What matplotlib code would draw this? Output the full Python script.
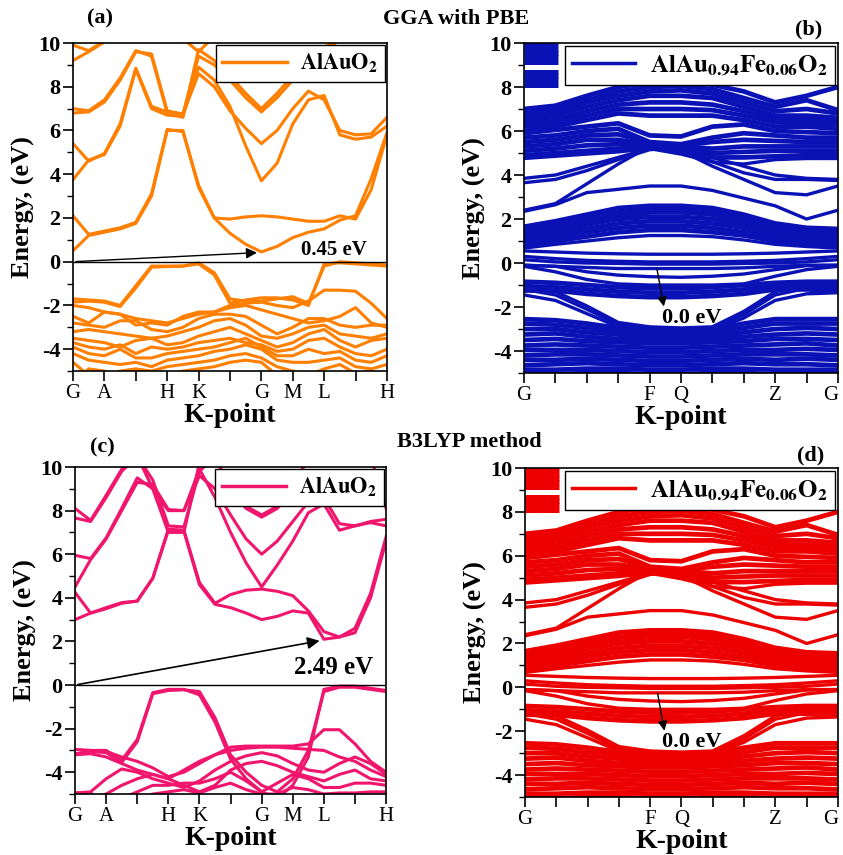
import matplotlib
matplotlib.use('Agg')
import matplotlib.pyplot as plt
from matplotlib.lines import Line2D

plt.rcParams['font.family'] = ['Liberation Serif', 'DejaVu Serif']
plt.rcParams['mathtext.fontset'] = 'stix'
plt.rcParams['axes.unicode_minus'] = False

# k-path positions
k_half = [0, 0.5, 1, 1.5, 2, 2.5, 3, 3.5, 4, 4.5, 5, 5.5, 6, 6.5, 7, 7.5, 8, 8.5, 9, 9.5, 10]
k_node = [0, 1, 2, 3, 4, 5, 6, 7, 8, 9, 10]

pure_ticks = ['G', 'A', '', 'H', 'K', '', 'G', 'M', 'L', '', 'H']
fe_ticks = ['G', '', '', '', 'F', 'Q', '', '', 'Z', '', 'G']

# ---- (a) AlAuO2, GGA-PBE ----
pbe_cond = [
    [0.5, 1.2, 1.35, 1.5, 1.75, 3.0, 6.0, 6.0, 3.4, 2.0, 1.3, 0.8, 0.45, 0.7, 1.1, 1.35, 1.5, 1.9, 2.1, 3.8, 5.9],
    [2.1, 1.25, 1.4, 1.55, 1.8, 3.1, 6.05, 5.95, 3.5, 2.0, 1.95, 2.05, 2.1, 2.05, 1.95, 1.85, 1.85, 2.1, 1.95, 3.3, 5.8],
    [3.75, 4.65, 4.9, 6.2, 8.8, 7.0, 6.7, 6.65, 8.9, 8.3, 7.1, 5.3, 3.7, 4.5, 6.3, 7.4, 7.6, 5.8, 5.6, 5.7, 6.2],
    [5.4, 4.6, 4.95, 6.3, 8.85, 7.1, 6.85, 6.75, 8.6, 8.0, 6.9, 6.1, 5.4, 6.0, 7.0, 7.8, 7.4, 6.0, 5.8, 5.85, 6.6],
    [6.8, 6.85, 7.3, 8.3, 9.6, 9.5, 6.9, 6.75, 9.4, 9.0, 8.3, 7.5, 6.85, 7.5, 8.3, 9.0, 9.5, 10.2, 10.5, 10.5, 10.5],
    [7.0, 6.9, 7.4, 8.4, 9.65, 9.4, 6.8, 6.6, 9.7, 9.2, 8.5, 7.7, 7.0, 7.7, 8.5, 9.2, 9.8, 10.2, 10.5, 10.5, 10.5],
    [9.2, 9.6, 10.05, 10.5, 10.5, 10.5, 10.5, 10.5, 10.5, 10.5, 10.5, 10.5, 10.5, 10.5, 10.5, 10.5, 10.5, 10.5, 10.5, 10.5, 10.5],
    [9.9, 9.65, 10.1, 10.5, 10.5, 10.5, 10.5, 10.5, 10.5, 10.5, 10.5, 10.5, 10.5, 10.5, 10.5, 10.5, 10.5, 10.5, 10.5, 10.5, 10.5],
    [10.5, 10.5, 10.5, 10.5, 10.5, 10.5, 10.5, 10.2, 9.6, 10.3, 10.5, 10.5, 10.5, 10.5, 10.5, 10.5, 10.5, 10.5, 10.5, 10.5, 10.5],
]
pbe_val = [
    [-1.7, -1.75, -1.8, -2.0, -1.1, -0.2, -0.2, -0.2, -0.1, -0.6, -1.9, -1.75, -1.65, -1.65, -1.75, -2.0, -0.1, -0.05, -0.1, -0.15, -0.2],
    [-1.85, -1.8, -1.85, -2.05, -1.2, -0.25, -0.22, -0.2, -0.05, -0.5, -1.7, -1.8, -1.8, -1.7, -1.6, -1.9, -0.2, 0.0, -0.05, -0.1, -0.15],
    [-2.0, -2.1, -2.3, -2.4, -2.6, -2.7, -2.8, -2.6, -2.4, -2.3, -2.0, -1.9, -1.85, -2.0, -2.1, -1.8, -1.3, -1.3, -1.35, -1.9, -2.6],
    [-2.5, -2.8, -2.3, -2.4, -2.9, -2.8, -2.9, -2.5, -2.3, -2.3, -2.1, -2.0, -2.2, -2.4, -2.6, -2.8, -2.7, -2.5, -2.1, -2.8, -3.0],
    [-2.8, -2.9, -3.0, -2.7, -2.7, -3.1, -3.2, -3.0, -2.6, -2.4, -2.4, -2.5, -2.9, -3.3, -3.0, -2.6, -2.6, -2.9, -3.0, -2.9, -2.9],
    [-3.2, -3.1, -3.2, -3.3, -3.4, -3.5, -3.4, -3.2, -3.0, -2.7, -2.6, -2.9, -3.4, -3.5, -3.3, -3.0, -2.9, -3.3, -3.4, -3.5, -3.3],
    [-3.5, -3.6, -3.7, -3.9, -3.6, -3.5, -3.8, -3.7, -3.4, -3.2, -3.0, -3.3, -3.6, -3.9, -3.7, -3.3, -3.1, -3.6, -3.9, -3.6, -3.5],
    [-3.7, -3.9, -4.0, -3.8, -4.2, -3.9, -4.0, -3.9, -3.7, -3.6, -3.5, -3.7, -3.8, -4.1, -4.0, -3.6, -3.5, -3.9, -4.2, -4.3, -4.0],
    [-3.9, -4.2, -4.3, -4.0, -4.4, -4.4, -4.2, -4.1, -4.0, -3.9, -3.7, -3.5, -3.9, -4.3, -4.3, -4.0, -4.2, -4.1, -4.5, -4.6, -4.3],
    [-4.2, -4.5, -4.6, -4.7, -4.6, -4.8, -4.5, -4.4, -4.3, -4.1, -4.0, -3.8, -4.0, -4.5, -4.6, -4.6, -4.5, -4.4, -4.8, -4.9, -4.7],
    [-4.6, -5.2, -5.3, -5.0, -4.9, -5.0, -4.8, -4.7, -4.6, -4.5, -4.3, -4.2, -4.4, -4.8, -5.0, -5.2, -4.9, -4.7, -5.1, -5.0, -5.2],
    [-5.5, -4.9, -5.0, -5.3, -5.5, -5.4, -5.2, -5.0, -4.9, -4.8, -4.6, -4.5, -4.6, -5.2, -5.5, -5.5, -5.3, -5.1, -5.3, -5.5, -5.5],
]

# ---- (c) AlAuO2, B3LYP ----
b3_cond = [
    [3.0, 3.3, 3.5, 3.75, 3.85, 4.9, 7.1, 7.05, 4.6, 3.7, 3.55, 3.3, 3.0, 3.15, 3.4, 3.3, 2.1, 2.2, 2.6, 4.2, 6.8],
    [4.25, 3.3, 3.55, 3.78, 3.85, 4.9, 7.15, 7.1, 4.7, 3.75, 4.15, 4.35, 4.4, 4.3, 4.1, 3.4, 2.45, 2.2, 2.4, 4.0, 6.6],
    [4.5, 5.75, 6.7, 8.0, 9.3, 9.2, 8.05, 8.0, 9.9, 8.6, 7.0, 5.6, 4.5, 5.5, 6.6, 7.9, 8.3, 7.1, 7.3, 7.45, 7.3],
    [5.95, 5.8, 6.75, 8.1, 9.5, 9.0, 8.0, 8.0, 9.6, 9.0, 7.8, 6.7, 6.0, 6.6, 7.5, 8.4, 8.6, 7.4, 7.3, 7.5, 7.6],
    [7.66, 7.5, 8.6, 9.8, 10.5, 9.4, 7.3, 7.25, 9.8, 10.5, 8.9, 8.1, 7.7, 8.1, 8.9, 10.5, 10.5, 10.5, 10.5, 10.5, 8.1],
    [8.1, 7.55, 8.7, 9.9, 10.5, 9.0, 7.0, 7.0, 10.2, 10.5, 9.0, 8.2, 7.8, 8.2, 9.0, 10.5, 10.5, 10.5, 10.5, 10.5, 10.5],
]
b3_val = [
    [-2.95, -3.0, -3.0, -3.45, -2.5, -0.35, -0.2, -0.2, -0.45, -1.7, -3.4, -4.3, -4.9, -5.2, -4.6, -3.3, -0.2, -0.05, -0.05, -0.15, -0.25],
    [-3.15, -3.05, -3.1, -3.55, -2.6, -0.4, -0.25, -0.22, -0.3, -1.5, -3.2, -4.0, -4.6, -4.9, -4.3, -3.0, -0.3, -0.1, -0.1, -0.2, -0.3],
    [-3.2, -3.0, -3.05, -3.3, -3.5, -3.8, -4.2, -4.0, -3.6, -3.2, -2.85, -2.8, -2.8, -2.8, -2.8, -2.7, -2.05, -2.05, -2.7, -3.5, -4.0],
    [-3.2, -3.15, -3.3, -3.6, -3.9, -4.1, -4.3, -3.9, -3.5, -3.2, -3.0, -2.9, -2.85, -2.85, -2.9, -2.95, -3.0, -3.3, -3.5, -3.9, -4.2],
    [-4.95, -4.9, -4.3, -3.85, -4.0, -4.3, -4.5, -4.7, -4.4, -3.9, -3.5, -3.25, -3.1, -3.25, -3.6, -3.9, -4.0, -3.6, -3.3, -3.6, -4.1],
    [-5.2, -5.2, -5.0, -4.6, -4.3, -4.1, -4.3, -4.6, -4.9, -4.6, -3.9, -3.6, -3.5, -3.7, -4.0, -4.2, -4.4, -4.1, -3.9, -4.3, -4.4],
    [-5.3, -5.3, -5.3, -5.2, -4.9, -4.6, -4.6, -4.5, -4.5, -4.3, -4.0, -4.4, -4.9, -4.5, -4.1, -4.3, -4.7, -4.7, -4.5, -4.5, -4.6],
    [-4.95, -4.95, -5.5, -5.5, -5.3, -5.0, -4.9, -4.8, -4.95, -4.7, -4.5, -4.8, -5.0, -5.0, -4.7, -4.8, -5.0, -4.95, -4.95, -4.9, -4.9],
]

# ---- (b)/(d) AlAu0.94Fe0.06O2 supercell ----
fe_block_k = [0, 1.08]
fe_block_e = [8.1, 8.3, 8.5, 8.7, 9.15, 9.35, 9.55, 9.75, 9.95]

# thick bundles
fe_upper = [
    [7.0, 7.15, 7.6, 8.0, 8.2, 8.3, 8.1, 7.8, 7.3, 7.6, 8.0],
    [6.8, 7.0, 7.4, 7.8, 8.0, 8.05, 7.9, 7.5, 7.1, 7.4, 6.95],
    [6.65, 6.85, 7.3, 7.6, 7.8, 7.85, 7.7, 7.3, 6.9, 7.0, 6.8],
    [6.5, 6.7, 7.1, 7.4, 7.6, 7.6, 7.5, 7.1, 6.7, 6.7, 6.6],
    [6.35, 6.5, 6.9, 7.2, 7.3, 7.3, 7.2, 6.9, 6.55, 6.5, 6.45],
    [6.2, 6.35, 6.7, 7.0, 7.0, 7.0, 6.95, 6.7, 6.4, 6.35, 6.3],
    [6.0, 6.2, 6.5, 6.8, 6.7, 6.7, 6.7, 6.5, 6.2, 6.2, 6.1],
    [5.9, 6.05, 6.2, 6.35, 5.8, 5.75, 6.2, 6.3, 6.0, 5.95, 5.9],
    [5.7, 5.8, 6.0, 6.1, 5.5, 5.4, 5.7, 5.9, 5.8, 5.7, 5.7],
    [5.5, 5.6, 5.8, 5.85, 5.45, 5.35, 5.5, 5.6, 5.55, 5.5, 5.5],
    [5.3, 5.4, 5.6, 5.6, 5.35, 5.3, 5.2, 5.3, 5.3, 5.3, 5.3],
    [5.1, 5.2, 5.35, 5.4, 5.3, 5.2, 5.0, 5.05, 5.1, 5.1, 5.1],
    [4.9, 5.0, 5.1, 5.2, 5.25, 5.1, 4.8, 4.8, 4.85, 4.9, 4.9],
]
fe_low = [
    [1.65, 1.9, 2.2, 2.5, 2.6, 2.6, 2.5, 2.2, 1.8, 1.6, 1.55],
    [1.5, 1.75, 2.05, 2.3, 2.45, 2.45, 2.35, 2.05, 1.7, 1.5, 1.45],
    [1.35, 1.6, 1.9, 2.15, 2.3, 2.3, 2.2, 1.9, 1.55, 1.4, 1.35],
    [1.2, 1.45, 1.75, 2.0, 2.1, 2.1, 2.0, 1.75, 1.45, 1.3, 1.25],
    [1.1, 1.3, 1.55, 1.8, 1.9, 1.9, 1.8, 1.6, 1.3, 1.15, 1.1],
    [0.95, 1.15, 1.4, 1.6, 1.7, 1.7, 1.6, 1.4, 1.15, 1.0, 0.95],
    [0.8, 1.0, 1.2, 1.4, 1.5, 1.5, 1.4, 1.25, 1.0, 0.85, 0.8],
]
fe_val = [
    [-0.85, -0.9, -1.0, -1.1, -1.15, -1.15, -1.1, -1.0, -0.9, -0.85, -0.85],
    [-1.05, -1.1, -1.2, -1.3, -1.35, -1.35, -1.3, -1.2, -1.05, -1.0, -1.05],
    [-1.25, -1.25, -1.4, -1.5, -1.55, -1.55, -1.5, -1.4, -1.2, -1.2, -1.25],
]
fe_deep = [
    [-2.55, -2.6, -2.75, -2.95, -3.05, -3.05, -3.0, -2.75, -2.55, -2.55, -2.55],
    [-2.75, -2.8, -2.95, -3.1, -3.2, -3.2, -3.15, -2.95, -2.75, -2.75, -2.75],
    [-3.0, -3.0, -3.15, -3.25, -3.35, -3.35, -3.3, -3.15, -3.0, -2.95, -3.0],
    [-3.25, -3.2, -3.35, -3.45, -3.5, -3.5, -3.45, -3.35, -3.25, -3.2, -3.25],
    [-3.5, -3.45, -3.55, -3.6, -3.65, -3.65, -3.6, -3.55, -3.45, -3.45, -3.5],
    [-3.75, -3.7, -3.75, -3.8, -3.85, -3.85, -3.8, -3.75, -3.7, -3.65, -3.75],
    [-3.95, -3.95, -3.95, -4.0, -4.05, -4.05, -4.0, -3.95, -3.95, -3.9, -3.95],
    [-4.2, -4.15, -4.15, -4.2, -4.25, -4.25, -4.2, -4.15, -4.15, -4.15, -4.2],
    [-4.4, -4.4, -4.35, -4.4, -4.45, -4.45, -4.4, -4.35, -4.4, -4.35, -4.4],
    [-4.65, -4.6, -4.55, -4.6, -4.65, -4.65, -4.6, -4.55, -4.6, -4.6, -4.65],
    [-4.85, -4.85, -4.8, -4.8, -4.85, -4.85, -4.8, -4.8, -4.85, -4.85, -4.85],
    [-5.05, -5.05, -5.0, -5.0, -5.05, -5.05, -5.0, -5.0, -5.05, -5.05, -5.05],
]
# single lines
fe_mid = [
    [4.75, 4.85, 4.95, 5.05, 5.2, 4.95, 4.6, 4.5, 4.7, 4.75, 4.75],
    [3.85, 4.0, 4.4, 4.8, 5.2, 5.3, 4.8, 4.4, 4.0, 3.85, 3.8],
    [3.65, 3.8, 4.2, 4.7, 5.15, 5.25, 4.6, 4.1, 3.8, 3.8, 3.75],
    [2.4, 2.7, 3.6, 4.5, 5.3, 5.1, 4.4, 3.8, 3.2, 3.1, 3.5],
    [2.35, 2.65, 3.2, 3.35, 3.5, 3.5, 3.3, 2.95, 2.6, 2.0, 2.4],
    [0.68, 0.85, 1.0, 1.15, 1.25, 1.25, 1.2, 1.05, 0.85, 0.75, 0.68],
]
fe_fermi = [
    [0.55, 0.5, 0.45, 0.42, 0.4, 0.4, 0.4, 0.42, 0.45, 0.5, 0.55],
    [0.3, 0.2, 0.12, 0.08, 0.05, 0.05, 0.05, 0.08, 0.12, 0.2, 0.3],
    [0.15, 0.05, 0.0, -0.02, -0.05, -0.05, -0.05, -0.02, 0.0, 0.05, 0.15],
    [-0.1, -0.15, -0.2, -0.25, -0.25, -0.25, -0.25, -0.22, -0.15, -0.1, -0.1],
    [-0.1, -0.15, -0.4, -0.55, -0.62, -0.65, -0.6, -0.5, -0.3, -0.12, -0.1],
    [-0.15, -0.4, -0.75, -0.95, -1.0, -1.0, -1.0, -0.95, -0.6, -0.3, -0.15],
    [-1.0, -1.3, -1.95, -2.7, -2.9, -2.95, -2.9, -2.2, -1.3, -1.0, -0.95],
    [-1.2, -1.45, -2.1, -2.8, -2.95, -3.0, -2.95, -2.35, -1.45, -1.15, -1.1],
    [-1.45, -1.7, -2.3, -2.9, -3.05, -3.1, -3.05, -2.5, -1.7, -1.4, -1.35],
]

pure_label = r'$\mathbf{AlAuO_2}$'
fe_label = r'$\mathbf{AlAu_{0.94}Fe_{0.06}O_2}$'

fig = plt.figure(figsize=(8.43, 8.55), dpi=100)
ax_a = fig.add_axes([0.0866, 0.566, 0.3724, 0.3837])
ax_b = fig.add_axes([0.6216, 0.5637, 0.3724, 0.386])
ax_c = fig.add_axes([0.089, 0.0713, 0.369, 0.3825])
ax_d = fig.add_axes([0.6228, 0.0678, 0.3712, 0.3848])


def style_axes(ax, ticklabels):
    ax.set_xlim(0, 10)
    ax.set_ylim(-5, 10)
    ax.set_xticks(k_node)
    ax.set_xticklabels(ticklabels, fontsize=15)
    ax.set_yticks([-4, -2, 0, 2, 4, 6, 8, 10])
    ax.set_yticks([-5, -3, -1, 1, 3, 5, 7, 9], minor=True)
    ax.set_yticklabels(['-4', '-2', '0', '2', '4', '6', '8', '10'], fontsize=16, fontweight='bold')
    ax.tick_params(axis='both', which='major', direction='out', length=7, width=1.2, pad=2)
    ax.tick_params(axis='y', which='minor', direction='out', length=4, width=1.0)
    for s in ax.spines.values():
        s.set_linewidth(1.2)
    ax.set_ylabel('Energy, (eV)', fontsize=19, fontweight='bold', labelpad=2)
    ax.set_xlabel('K-point', fontsize=20, fontweight='bold', labelpad=0)


def add_legend(ax, color, label, size, hlen):
    h = Line2D([], [], color=color, lw=2.5)
    leg = ax.legend([h], [label], loc='upper right', fontsize=size, frameon=True,
                    fancybox=False, edgecolor='k', framealpha=1, borderaxespad=0.1,
                    handlelength=hlen, borderpad=0.3, handletextpad=0.6)
    leg.get_frame().set_linewidth(1.0)


# (a)
orange = '#ff7f00'
for e in pbe_cond + pbe_val:
    ax_a.plot(k_half, e, color=orange, lw=2.2, solid_joinstyle='round')
ax_a.axhline(0, color='k', lw=1.0)
ax_a.annotate('', xy=(5.95, 0.42), xytext=(0, 0),
              arrowprops=dict(arrowstyle='-|>', color='k', lw=1.0, mutation_scale=16))
ax_a.text(7.25, 0.55, '0.45 eV', fontsize=15, fontweight='bold', va='center')
style_axes(ax_a, pure_ticks)
add_legend(ax_a, orange, pure_label, 16, 2.9)

# (c)
pink = '#f0166e'
for e in b3_cond + b3_val:
    ax_c.plot(k_half, e, color=pink, lw=2.2, solid_joinstyle='round')
ax_c.axhline(0, color='k', lw=1.0)
ax_c.annotate('', xy=(7.95, 2.05), xytext=(0, 0),
              arrowprops=dict(arrowstyle='-|>', color='k', lw=1.2, mutation_scale=18))
ax_c.text(7.05, 0.8, '2.49 eV', fontsize=18, fontweight='bold', va='center')
style_axes(ax_c, pure_ticks)
add_legend(ax_c, pink, pure_label, 16, 2.9)


def draw_fe(ax, color):
    for e in fe_block_e:
        ax.plot(fe_block_k, [e, e], color=color, lw=3.6, solid_capstyle='butt')
    for e in fe_upper + fe_low + fe_val + fe_deep:
        ax.plot(k_node, e, color=color, lw=3.4, solid_joinstyle='round')
    for e in fe_mid + fe_fermi:
        ax.plot(k_node, e, color=color, lw=2.4, solid_joinstyle='round')
    ax.annotate('', xy=(4.47, -2.1), xytext=(4.22, -0.15),
                arrowprops=dict(arrowstyle='-|>', color='k', lw=1.0, mutation_scale=14))
    ax.text(4.38, -2.5, '0.0 eV', fontsize=16, fontweight='bold', va='center')


blue = '#0a12b6'
red = '#ec0000'
draw_fe(ax_b, blue)
style_axes(ax_b, fe_ticks)
add_legend(ax_b, blue, fe_label, 18, 2.5)
ax_b.get_xticklabels()[-1].set_ha('right')

draw_fe(ax_d, red)
style_axes(ax_d, fe_ticks)
add_legend(ax_d, red, fe_label, 18, 2.5)
ax_d.get_xticklabels()[-1].set_ha('right')

# panel tags and method titles
fig.text(0.119, 0.978, '(a)', fontsize=16, fontweight='bold', ha='center', va='center')
fig.text(0.541, 0.978, 'GGA with PBE', fontsize=16, fontweight='bold', ha='center', va='center')
fig.text(0.959, 0.965, '(b)', fontsize=16, fontweight='bold', ha='center', va='center')
fig.text(0.557, 0.483, 'B3LYP method', fontsize=16, fontweight='bold', ha='center', va='center')
fig.text(0.122, 0.477, '(c)', fontsize=16, fontweight='bold', ha='center', va='center')
fig.text(0.962, 0.467, '(d)', fontsize=16, fontweight='bold', ha='center', va='center')

fig.savefig('out.png', dpi=100)
